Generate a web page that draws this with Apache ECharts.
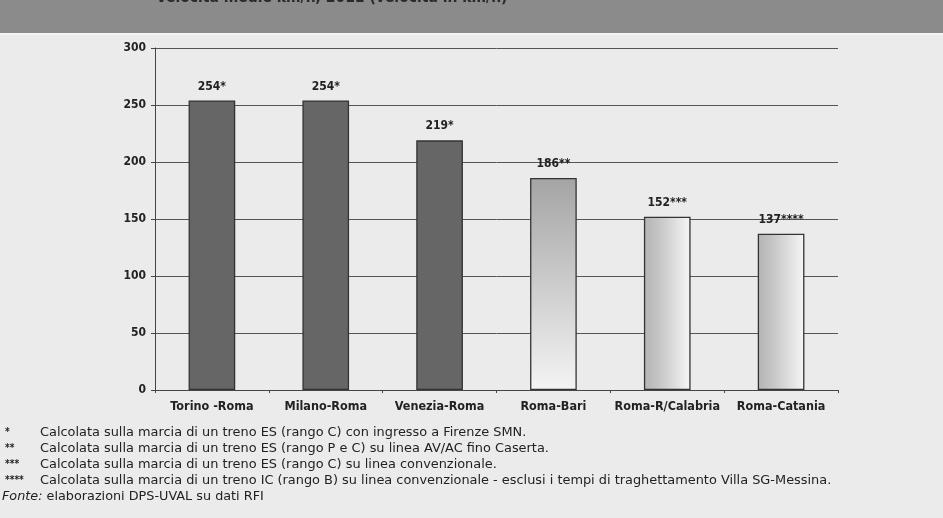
<!DOCTYPE html>
<html><head><meta charset="utf-8">
<script src="https://cdn.jsdelivr.net/npm/echarts@6/dist/echarts.min.js"></script>
<style>html,body{margin:0;padding:0;background:#ebebeb}#c{width:943px;height:518px}</style>
</head><body><div id="c"></div>
<script>
const titleText = "Velocità medie km/h, 2011 (velocità in km/h)";
const categories = ["Torino -Roma", "Milano-Roma", "Venezia-Roma", "Roma-Bari", "Roma-R/Calabria", "Roma-Catania"];
const values = [254, 254, 219, 186, 152, 137];
const marks = ["*", "*", "*", "**", "***", "****"];
const fillKinds = ["solid", "solid", "solid", "vertical", "horizontal", "horizontal"];
const yTicks = [0, 50, 100, 150, 200, 250, 300];
const noteMarks = ["*", "**", "***", "****"];
const noteTexts = [
  "Calcolata sulla marcia di un treno ES (rango C) con ingresso a Firenze SMN.",
  "Calcolata sulla marcia di un treno ES (rango P e C) su linea AV/AC fino Caserta.",
  "Calcolata sulla marcia di un treno ES (rango C) su linea convenzionale.",
  "Calcolata sulla marcia di un treno IC (rango B) su linea convenzionale - esclusi i tempi di traghettamento Villa SG-Messina."
];
const sourceLabel = "Fonte:";
const sourceText = " elaborazioni DPS-UVAL su dati RFI";

function fillFor(kind) {
  if (kind === "vertical") return new echarts.graphic.LinearGradient(0, 0, 0, 1, [{offset: 0, color: '#a4a4a4'}, {offset: 1, color: '#f4f4f4'}]);
  if (kind === "horizontal") return new echarts.graphic.LinearGradient(0, 0, 1, 0, [{offset: 0, color: '#b4b4b4'}, {offset: 0.3, color: '#c4c4c4'}, {offset: 1, color: '#f6f6f6'}]);
  return '#666666';
}

const chart = echarts.init(document.getElementById('c'), null, {renderer: 'canvas'});
const graphics = [
  {type: 'rect', left: 0, top: 0, shape: {width: 943, height: 33}, style: {fill: '#8b8b8b'}, z: 0},
  {type: 'rect', left: 0, top: 33, shape: {width: 943, height: 2}, style: {fill: '#f4f4f4'}, z: 0},
  {type: 'text', left: 156, top: -10, style: {text: titleText, font: 'bold 15.5px "DejaVu Sans Condensed"', fill: '#2a2a2a'}, z: 1}
];
noteTexts.forEach((t, i) => {
  const y = 426 + i * 16;
  graphics.push({type: 'text', left: 5, top: y + 1, style: {text: noteMarks[i], font: 'bold 10px "DejaVu Sans Condensed"', fill: '#222'}});
  graphics.push({type: 'text', left: 40, top: y, style: {text: t, font: '12.9px "DejaVu Sans"', fill: '#222'}});
});
graphics.push({type: 'text', left: 2, top: 490, style: {
  text: '{i|' + sourceLabel + '}{n|' + sourceText + '}',
  rich: {i: {font: 'italic 12.8px "DejaVu Sans"', fill: '#222'}, n: {font: '12.8px "DejaVu Sans"', fill: '#222'}}
}});

chart.setOption({
  backgroundColor: '#ebebeb',
  animation: false,
  grid: {left: 155, right: 105, top: 48, bottom: 128, containLabel: false},
  xAxis: {
    type: 'category', data: categories,
    axisLine: {lineStyle: {color: '#444', width: 1}},
    axisTick: {show: true, length: 3, lineStyle: {color: '#444'}},
    axisLabel: {interval: 0, color: '#222', fontWeight: 'bold', fontSize: 12.5, fontFamily: 'DejaVu Sans Condensed', margin: 10}
  },
  yAxis: {
    type: 'value', min: yTicks[0], max: yTicks[yTicks.length - 1], interval: 50,
    axisLine: {show: true, lineStyle: {color: '#444'}},
    axisTick: {show: true, length: 4, lineStyle: {color: '#444'}},
    axisLabel: {color: '#222', fontWeight: 'bold', fontSize: 12, fontFamily: 'DejaVu Sans Condensed', margin: 9},
    splitLine: {show: true, lineStyle: {color: '#555', width: 1}}
  },
  series: [{
    type: 'bar', barWidth: '41%',
    data: values.map((v, i) => ({
      value: v,
      itemStyle: {color: fillFor(fillKinds[i]), borderColor: '#333', borderWidth: 1.3},
      label: {formatter: v + marks[i]}
    })),
    label: {show: true, position: 'top', distance: 8, color: '#222', fontWeight: 'bold', fontSize: 12, fontFamily: 'DejaVu Sans Condensed'}
  }],
  graphic: graphics
});
</script></body></html>
